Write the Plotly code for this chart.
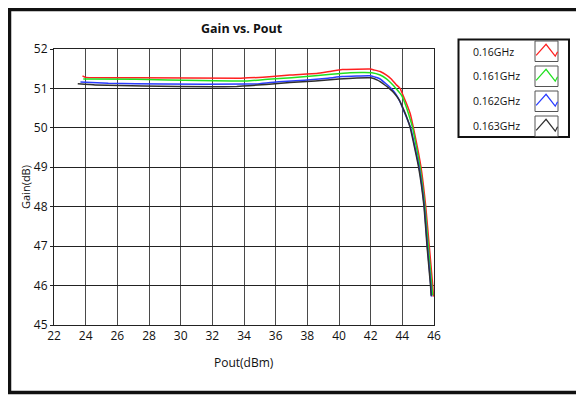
import plotly.graph_objects as go

series_names = ["0.16GHz", "0.161GHz", "0.162GHz", "0.163GHz"]
series_colors = ["#ff2020", "#20e020", "#2a3cff", "#303030"]

pout_016 = [23.8, 24.0, 27.3, 33.8, 35.8, 36.9, 38.6, 39.4, 40.2, 42.0, 42.2, 42.6, 43.0, 43.3, 43.6, 43.86, 44.07, 44.28, 44.49, 44.7, 45.18, 45.48, 45.7, 45.92, 45.96]
gain_016 = [51.32, 51.28, 51.27, 51.26, 51.30, 51.34, 51.38, 51.43, 51.48, 51.49, 51.47, 51.43, 51.34, 51.24, 51.10, 51.0, 50.8, 50.6, 50.37, 50.0, 49.0, 48.0, 47.0, 46.0, 45.72]

pout_0161 = [23.85, 27.2, 31.2, 34.2, 35.5, 37.0, 38.5, 39.5, 40.7, 42.07, 42.6, 43.0, 43.3, 43.6, 43.96, 44.17, 44.38, 44.65, 45.12, 45.43, 45.64, 45.86, 45.92]
gain_0161 = [51.24, 51.23, 51.2, 51.19, 51.23, 51.27, 51.32, 51.36, 51.40, 51.40, 51.34, 51.24, 51.13, 51.0, 50.82, 50.62, 50.37, 50.0, 49.0, 48.0, 47.0, 46.0, 45.75]

pout_0162 = [23.67, 25.43, 28.9, 34.2, 35.0, 36.2, 37.8, 39.3, 40.2, 42.0, 42.6, 42.93, 43.24, 43.55, 43.86, 44.07, 44.28, 44.53, 45.06, 45.39, 45.58, 45.8, 45.84]
gain_0162 = [51.16, 51.13, 51.11, 51.11, 51.12, 51.17, 51.21, 51.26, 51.30, 51.32, 51.24, 51.13, 51.02, 50.88, 50.66, 50.45, 50.25, 50.0, 49.0, 48.0, 47.0, 46.0, 45.72]

pout_0163 = [23.5, 24.6, 27.64, 31.96, 33.54, 34.3, 35.4, 36.9, 38.5, 40.0, 42.0, 42.43, 42.85, 43.17, 43.49, 43.8, 44.0, 44.25, 44.5, 45.03, 45.37, 45.56, 45.78, 45.82]
gain_0163 = [51.12, 51.09, 51.06, 51.04, 51.05, 51.07, 51.10, 51.15, 51.19, 51.24, 51.27, 51.21, 51.10, 51.0, 50.88, 50.71, 50.54, 50.3, 50.0, 49.0, 48.0, 47.0, 46.0, 45.74]

x_ticks = [22, 24, 26, 28, 30, 32, 34, 36, 38, 40, 42, 44, 46]
y_ticks = [45, 46, 47, 48, 49, 50, 51, 52]

xs = [pout_016, pout_0161, pout_0162, pout_0163]
ys = [gain_016, gain_0161, gain_0162, gain_0163]

# page offset of the plot div (default body margin)
OFF = 8
W, H = 584 - OFF, 395 - OFF
# plot area in page pixel coordinates
L, R, T, B = 54, 434, 49, 325

def px(x):
    return (x - L) / (R - L)

def py(y):
    return (B - y) / (B - T)

fig = go.Figure()
for n, c, x, y in zip(series_names, series_colors, xs, ys):
    fig.add_trace(go.Scatter(x=x, y=y, mode="lines", name=n,
                             line=dict(color=c, width=1.5, shape="spline", smoothing=0.3),
                             showlegend=False))

FONT = "Open Sans, Liberation Sans, sans-serif"
shapes = []
annotations = []

# outer frame
shapes.append(dict(type="rect", xref="paper", yref="paper",
                   x0=px(9.5), x1=px(620), y0=py(9.5), y1=py(392.5),
                   line=dict(color="#111", width=3.5), layer="above"))
# legend frame
shapes.append(dict(type="rect", xref="paper", yref="paper",
                   x0=px(458.5), x1=px(569), y0=py(39.5), y1=py(137),
                   line=dict(color="#111", width=2), fillcolor="white", layer="above"))

box_tops = [41, 66, 91, 116]
label_y = [52, 76, 101, 126]
for name, col, bt, ly in zip(series_names, series_colors, box_tops, label_y):
    x0b, x1b = 535, 558
    y0b, y1b = bt, bt + 20.5
    shapes.append(dict(type="rect", xref="paper", yref="paper",
                       x0=px(x0b), x1=px(x1b), y0=py(y0b), y1=py(y1b),
                       line=dict(color="#555", width=1), layer="above"))
    w, h = x1b - x0b, y1b - y0b
    pts = [(0.05, 0.70), (0.48, 0.16), (0.88, 0.74), (0.98, 0.52)]
    path = ""
    for i, (fx, fy) in enumerate(pts):
        X = px(x0b + fx * w)
        Y = py(y0b + fy * h)
        path += ("M" if i == 0 else "L") + f"{X},{Y} "
    shapes.append(dict(type="path", xref="paper", yref="paper", path=path,
                       line=dict(color=col, width=1.2), layer="above"))
    annotations.append(dict(xref="paper", yref="paper", x=px(471), y=py(ly),
                            text=name, showarrow=False, xanchor="left", yanchor="middle",
                            font=dict(family=FONT, size=10.5, color="#111")))

annotations.append(dict(xref="paper", yref="paper", x=px(242), y=py(28),
                        text="<b>Gain vs. Pout</b>", showarrow=False,
                        xanchor="center", yanchor="middle",
                        font=dict(family=FONT, size=12.5, color="#111")))
annotations.append(dict(xref="paper", yref="paper", x=px(244), y=py(362),
                        text="Pout(dBm)", showarrow=False,
                        xanchor="center", yanchor="middle",
                        font=dict(family=FONT, size=12, color="#111")))
annotations.append(dict(xref="paper", yref="paper", x=px(25), y=py(187),
                        text="Gain(dB)", showarrow=False, textangle=-90,
                        xanchor="center", yanchor="middle",
                        font=dict(family=FONT, size=11, color="#111")))

fig.update_layout(
    width=W, height=H,
    margin=dict(l=L - OFF, r=W - (R - OFF), t=T - OFF, b=H - (B - OFF)),
    paper_bgcolor="white", plot_bgcolor="white",
    shapes=shapes, annotations=annotations,
    font=dict(family=FONT, size=12, color="#111"),
)
fig.update_xaxes(range=[22, 46], tickvals=x_ticks, showgrid=True, gridcolor="#4a4a4a",
                 gridwidth=1, showline=True, linecolor="#222", linewidth=1, mirror=True,
                 zeroline=False, ticks="", tickfont=dict(family=FONT, size=12, color="#111"))
fig.update_yaxes(range=[45, 52], tickvals=y_ticks, showgrid=True, gridcolor="#222",
                 gridwidth=1, showline=True, linecolor="#222", linewidth=1, mirror=True,
                 zeroline=False, ticks="outside", ticklen=3, tickcolor="#222",
                 tickfont=dict(family=FONT, size=12, color="#111"))

fig.write_html("out.html")
